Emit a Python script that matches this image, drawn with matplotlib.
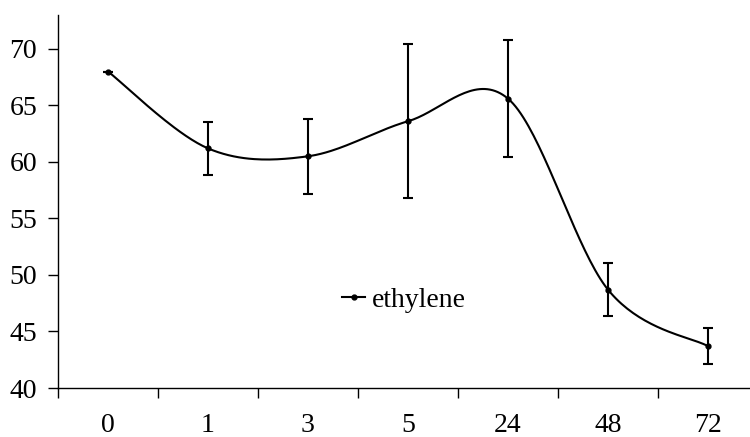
import numpy as np
import matplotlib
matplotlib.use("Agg")
import matplotlib.pyplot as plt

# data
hours = ["0", "1", "3", "5", "24", "48", "72"]
ethylene = [68.0, 61.2, 60.5, 63.6, 65.6, 48.7, 43.7]
ethylene_err = [0.0, 2.35, 3.3, 6.8, 5.2, 2.35, 1.6]


def smooth_line(x, y, n=40):
    # excel style smoothed line (bezier through the points)
    x = np.asarray(x, float)
    y = np.asarray(y, float)
    px = np.concatenate([[x[0]], x, [x[-1]]])
    py = np.concatenate([[y[0]], y, [y[-1]]])
    xs, ys = [], []
    t = np.linspace(0, 1, n)
    for i in range(len(x) - 1):
        p0 = np.array([px[i + 1], py[i + 1]])
        p3 = np.array([px[i + 2], py[i + 2]])
        c1 = p0 + (p3 - np.array([px[i], py[i]])) / 6.0
        c2 = p3 - (np.array([px[i + 3], py[i + 3]]) - p0) / 6.0
        b = ((1 - t) ** 3)[:, None] * p0 + (3 * (1 - t) ** 2 * t)[:, None] * c1 \
            + (3 * (1 - t) * t ** 2)[:, None] * c2 + (t ** 3)[:, None] * p3
        xs.extend(b[:, 0])
        ys.extend(b[:, 1])
    return np.array(xs), np.array(ys)


plt.rcParams['font.family'] = ['Liberation Serif', 'DejaVu Serif']
plt.rcParams['font.size'] = 20

fig = plt.figure(figsize=(7.5, 4.37), dpi=100)
ax = fig.add_axes([58 / 750, 1 - 388 / 437, 692 / 750, (388 - 15) / 437])

x = np.arange(len(hours))
sx, sy = smooth_line(x, ethylene)
ax.plot(sx, sy, color="black", lw=1.5)
ax.errorbar(x, ethylene, yerr=ethylene_err, fmt="none", ecolor="black",
            elinewidth=1.5, capsize=3.5, capthick=1.5)
ax.plot(x, ethylene, "o", color="black", ms=3.5)

# legend entry
ax.plot([], [], "-o", color="black", lw=1.5, ms=3.5, label="ethylene")
ax.legend(loc="center left", bbox_to_anchor=(342 / 750, 1 - 300 / 437),
          bbox_transform=fig.transFigure, frameon=False, handlelength=0.83,
          handletextpad=0.25, borderpad=0, borderaxespad=0, fontsize=20)

ax.set_xlim(-0.5, 6.42)
ax.set_ylim(40, 73)
ax.set_yticks(np.arange(40, 71, 5))
ax.set_xticks(x)
ax.set_xticklabels(hours)
ax.set_xticks(np.arange(-0.5, 6.5, 1), minor=True)
ax.tick_params(axis="x", which="major", length=0, pad=18)
ax.tick_params(axis="x", which="minor", length=7, width=1, direction="out")
ax.tick_params(axis="y", length=7, width=1, direction="out", pad=8)
ax.spines["top"].set_visible(False)
ax.spines["right"].set_visible(False)
for s in ("left", "bottom"):
    ax.spines[s].set_linewidth(1)

fig.savefig("out.png", dpi=100)
